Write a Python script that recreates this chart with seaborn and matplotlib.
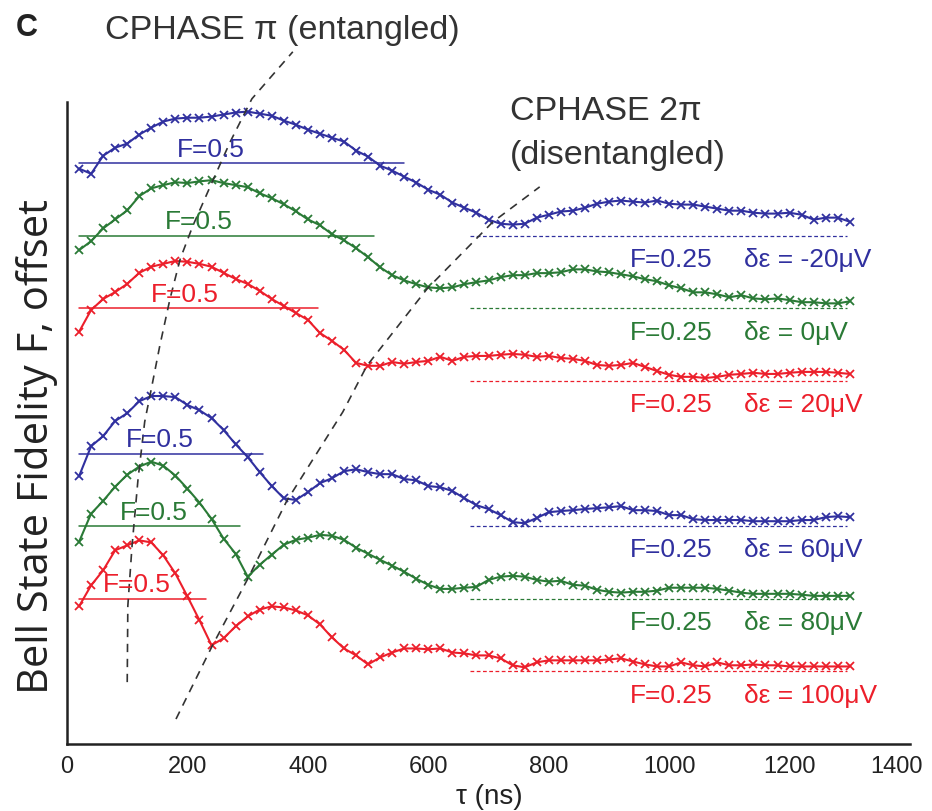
import numpy as np
import seaborn as sns
import matplotlib.pyplot as plt
from matplotlib.transforms import ScaledTranslation

# delay time (ns)
tau = np.arange(20, 1301, 20)

# Bell state fidelity for each detuning
F_m20 = [0.481, 0.463, 0.525, 0.553, 0.567, 0.598, 0.622, 0.643, 0.653, 0.656,
         0.656, 0.660, 0.667, 0.674, 0.677, 0.670, 0.663, 0.646, 0.632, 0.615,
         0.601, 0.587, 0.574, 0.543, 0.522, 0.491, 0.474, 0.453, 0.433, 0.408,
         0.391, 0.364, 0.346, 0.329, 0.305, 0.291, 0.288, 0.291, 0.312, 0.322,
         0.333, 0.336, 0.346, 0.360, 0.367, 0.371, 0.367, 0.364, 0.371, 0.360,
         0.357, 0.357, 0.350, 0.343, 0.336, 0.336, 0.329, 0.326, 0.326, 0.329,
         0.322, 0.305, 0.312, 0.312, 0.298]
F_0 = [0.450, 0.481, 0.525, 0.556, 0.587, 0.636, 0.663, 0.674, 0.684, 0.681,
       0.687, 0.691, 0.681, 0.674, 0.667, 0.646, 0.629, 0.608, 0.584, 0.556,
       0.536, 0.505, 0.484, 0.457, 0.426, 0.391, 0.364, 0.346, 0.333, 0.322,
       0.319, 0.322, 0.333, 0.340, 0.346, 0.357, 0.364, 0.364, 0.371, 0.371,
       0.374, 0.384, 0.384, 0.377, 0.374, 0.367, 0.360, 0.350, 0.343, 0.329,
       0.319, 0.305, 0.305, 0.298, 0.288, 0.295, 0.284, 0.281, 0.284, 0.278,
       0.271, 0.271, 0.267, 0.267, 0.274]
F_20 = [0.419, 0.494, 0.532, 0.556, 0.584, 0.622, 0.643, 0.653, 0.663, 0.660,
        0.653, 0.643, 0.622, 0.601, 0.584, 0.560, 0.532, 0.508, 0.484, 0.460,
        0.415, 0.388, 0.357, 0.312, 0.302, 0.302, 0.315, 0.309, 0.315, 0.319,
        0.333, 0.319, 0.333, 0.336, 0.336, 0.340, 0.343, 0.340, 0.333, 0.336,
        0.329, 0.326, 0.319, 0.305, 0.302, 0.305, 0.312, 0.298, 0.284, 0.271,
        0.264, 0.264, 0.260, 0.264, 0.271, 0.274, 0.278, 0.274, 0.274, 0.278,
        0.281, 0.281, 0.281, 0.278, 0.274]
F_60 = [0.422, 0.525, 0.560, 0.612, 0.639, 0.680, 0.698, 0.698, 0.694, 0.667,
        0.649, 0.622, 0.581, 0.532, 0.488, 0.436, 0.388, 0.346, 0.340, 0.367,
        0.398, 0.415, 0.439, 0.446, 0.436, 0.429, 0.429, 0.412, 0.408, 0.388,
        0.384, 0.371, 0.346, 0.322, 0.309, 0.288, 0.264, 0.260, 0.278, 0.298,
        0.302, 0.305, 0.309, 0.312, 0.315, 0.319, 0.305, 0.305, 0.302, 0.288,
        0.288, 0.274, 0.271, 0.271, 0.271, 0.271, 0.267, 0.267, 0.267, 0.267,
        0.271, 0.271, 0.281, 0.284, 0.281]
F_80 = [0.446, 0.543, 0.587, 0.636, 0.677, 0.705, 0.722, 0.708, 0.674, 0.629,
        0.581, 0.525, 0.457, 0.405, 0.326, 0.367, 0.402, 0.436, 0.453, 0.460,
        0.470, 0.467, 0.453, 0.426, 0.405, 0.384, 0.364, 0.343, 0.319, 0.298,
        0.284, 0.284, 0.288, 0.291, 0.315, 0.326, 0.329, 0.326, 0.315, 0.309,
        0.312, 0.298, 0.295, 0.281, 0.274, 0.271, 0.274, 0.274, 0.278, 0.288,
        0.288, 0.288, 0.288, 0.284, 0.278, 0.271, 0.267, 0.267, 0.267, 0.267,
        0.264, 0.260, 0.260, 0.260, 0.260]
F_100 = [0.474, 0.546, 0.598, 0.667, 0.684, 0.701, 0.694, 0.649, 0.587, 0.508,
         0.426, 0.340, 0.364, 0.405, 0.439, 0.463, 0.474, 0.470, 0.460, 0.443,
         0.412, 0.367, 0.329, 0.305, 0.274, 0.298, 0.315, 0.329, 0.329, 0.326,
         0.329, 0.315, 0.312, 0.305, 0.305, 0.295, 0.271, 0.264, 0.281, 0.288,
         0.288, 0.288, 0.288, 0.288, 0.291, 0.295, 0.284, 0.274, 0.267, 0.267,
         0.281, 0.271, 0.267, 0.281, 0.271, 0.271, 0.274, 0.271, 0.271, 0.267,
         0.267, 0.267, 0.267, 0.267, 0.267]

detuning_labels = ['-20μV', '0μV', '20μV', '60μV', '80μV', '100μV']
offsets = [1.5, 1.25, 1.0, 0.5, 0.25, 0.0]
# end of the F=0.5 reference line for each trace (ns)
half_line_end = [560, 510, 417, 325, 287, 230]
half_label_x = [239, 219, 196, 154, 144, 116]

# CPHASE guide curves (tau in ns, offset y)
pi_tau = [100, 101, 108, 118, 129, 141, 154, 171, 188, 209, 242, 271, 307, 375]
pi_y = [0.213, 0.475, 0.682, 0.913, 1.109, 1.233, 1.370, 1.532, 1.670, 1.784,
        1.939, 2.073, 2.221, 2.383]
twopi_tau = [181, 241, 300, 365, 458, 498, 598, 707, 785]
twopi_y = [0.086, 0.337, 0.568, 0.837, 1.143, 1.302, 1.567, 1.797, 1.918]

traces = [F_m20, F_0, F_20, F_60, F_80, F_100]
blue, green, red = '#30309f', '#2a7a36', '#ec1f2b'
colors = [blue, green, red, blue, green, red]

sns.set_style('white')
plt.rcParams['font.family'] = ['Liberation Sans', 'DejaVu Sans']

fig = plt.figure(figsize=(9.32, 8.12), dpi=100)
ax = fig.add_axes([0.0719, 0.0825, 0.9045, 0.7906])

for F, off, c, lab, hend, hx in zip(traces, offsets, colors, detuning_labels,
                                    half_line_end, half_label_x):
    sns.lineplot(x=tau, y=np.array(F) + off, ax=ax, color=c, lw=1.5,
                 marker='x', markersize=6, markeredgewidth=1.3,
                 markeredgecolor=c, legend=False)
    ax.plot([20, hend], [0.5 + off, 0.5 + off], color=c, lw=1.1)
    ax.plot([670, 1295], [0.25 + off, 0.25 + off], color=c, lw=0.9,
            ls=(0, (3, 2)))
    ax.text(hx, 0.5 + off + 0.05, 'F=0.5', color=c, fontsize=19,
            ha='center', va='center')
    ax.text(934, 0.25 + off - 0.08, 'F=0.25', color=c, fontsize=19,
            ha='left', va='center')
    ax.text(1125, 0.25 + off - 0.08, 'δε = ' + lab, color=c, fontsize=19,
            ha='left', va='center')

ax.plot(pi_tau, pi_y, color='#333333', lw=1.2, ls=(0, (5, 4)), clip_on=False)
ax.plot(twopi_tau, twopi_y, color='#333333', lw=1.2, ls=(0, (5, 4)), clip_on=False)

ax.text(63, 2.46, 'CPHASE π (entangled)', fontsize=24.5, color='#333333',
        ha='left', va='center')
ax.text(735, 2.18, 'CPHASE 2π', fontsize=24.5, color='#333333',
        ha='left', va='center')
ax.text(735, 2.03, '(disentangled)', fontsize=24.5, color='#333333',
        ha='left', va='center')

ax.set_xlim(0, 1400)
ax.set_ylim(0, 2.21)
ax.set_xticks(range(0, 1401, 200))
ax.set_yticks([0.5, 0.75, 1.0, 1.25, 1.5, 1.75, 2.0, 2.21])
ax.set_yticklabels([])
ax.tick_params(direction='in', length=6, width=1.6, labelsize=17,
               colors='#222222', pad=8)
sns.despine(ax=ax)
for s in ['left', 'bottom']:
    ax.spines[s].set_linewidth(1.8)
    ax.spines[s].set_color('#222222')

# last x tick label sits a bit left so it stays inside the figure
last = ax.get_xticklabels()[-1]
last.set_transform(last.get_transform() + ScaledTranslation(-0.14, 0, fig.dpi_scale_trans))

fig.text(489 / 932, 1 - 797 / 812, 'τ (ns)', fontsize=20, color='#222222',
         ha='center', va='center')
fig.text(37 / 932, 1 - 447 / 812, 'Bell State Fidelity F, offset',
         family=['Open Sans', 'DejaVu Sans'], fontsize=30, color='#222222',
         rotation=90, ha='center', va='center')
fig.text(27 / 932, 1 - 28 / 812, 'C', fontsize=22, fontweight='bold',
         color='#222222', ha='center', va='center')

fig.savefig('out.png', dpi=100)
